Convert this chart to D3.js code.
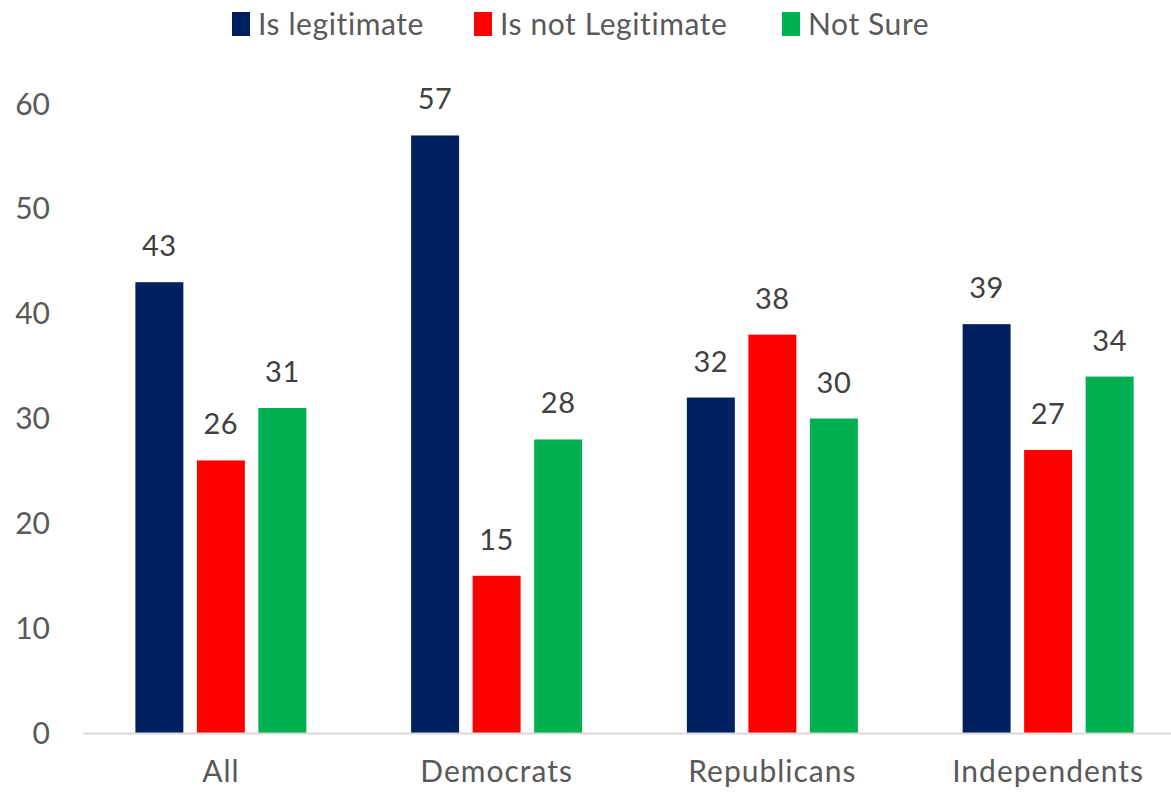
<!DOCTYPE html>
<html>
<head>
<meta charset="utf-8">
<script src="https://cdn.jsdelivr.net/npm/d3@7"></script>
<style>
  body { margin: 0; background: #fff; }
  text { font-family: Lato, "Open Sans", sans-serif; }
</style>
</head>
<body>
<div id="chart"></div>
<script>
// données
const categories = ["All", "Democrats", "Republicans", "Independents"];
const seriesNames = ["Is legitimate", "Is not Legitimate", "Not Sure"];
const isLegitimate = [43, 57, 32, 39];
const isNotLegitimate = [26, 15, 38, 27];
const notSure = [31, 28, 30, 34];
const yTicks = [0, 10, 20, 30, 40, 50, 60];
const colors = ["#002060", "#ff0000", "#00b050"];

const series = [isLegitimate, isNotLegitimate, notSure];

const width = 1171, height = 794;
const margin = { top: 104, right: -15, bottom: 61, left: 83 };

const svg = d3.select("#chart")
    .append("svg")
    .attr("width", width)
    .attr("height", height);

const x0 = d3.scaleBand()
    .domain(categories)
    .range([margin.left, width - margin.right]);

const x1 = d3.scaleBand()
    .domain(seriesNames)
    .range([0, 171])
    .paddingInner(0.22);

const y = d3.scaleLinear()
    .domain([0, 60])
    .range([height - margin.bottom, margin.top]);

// axe Y (texte seulement)
svg.append("g")
    .selectAll("text")
    .data(yTicks)
    .join("text")
    .attr("x", 50)
    .attr("y", d => y(d))
    .attr("dy", "0.35em")
    .attr("text-anchor", "end")
    .attr("fill", "#595959")
    .style("font-size", "30px")
    .text(d => d);

// barres
const groups = svg.append("g")
    .selectAll("g")
    .data(categories)
    .join("g")
    .attr("transform", c => "translate(" + (x0(c) + x0.bandwidth() / 2 - 85.5) + ",0)");

groups.selectAll("rect")
    .data((c, i) => seriesNames.map((s, j) => ({ s: s, j: j, v: series[j][i] })))
    .join("rect")
    .attr("x", d => x1(d.s))
    .attr("y", d => y(d.v))
    .attr("width", x1.bandwidth())
    .attr("height", d => y(0) - y(d.v))
    .attr("fill", d => colors[d.j]);

groups.selectAll("text")
    .data((c, i) => seriesNames.map((s, j) => ({ s: s, j: j, v: series[j][i] })))
    .join("text")
    .attr("x", d => x1(d.s) + x1.bandwidth() / 2)
    .attr("y", d => y(d.v) - 26)
    .attr("text-anchor", "middle")
    .attr("fill", "#404040")
    .style("font-size", "29px")
    .style("letter-spacing", "0.5px")
    .text(d => d.v);

// axe X
const xAxis = svg.append("g")
    .attr("transform", "translate(0," + y(0) + ")")
    .call(d3.axisBottom(x0).tickSize(0).tickPadding(28));
xAxis.select(".domain").attr("stroke", "#d9d9d9").attr("stroke-width", 2);
xAxis.selectAll("text")
    .attr("fill", "#595959")
    .style("font-size", "30px")
    .style("letter-spacing", "1px")
    .style("font-family", "Lato, 'Open Sans', sans-serif");

// légende
const legendX = [232, 474, 782];
const legend = svg.append("g")
    .selectAll("g")
    .data(seriesNames)
    .join("g")
    .attr("transform", (d, i) => "translate(" + legendX[i] + ",12)");
legend.append("rect")
    .attr("width", 18)
    .attr("height", 24)
    .attr("fill", (d, i) => colors[i]);
legend.append("text")
    .attr("x", 26)
    .attr("y", 12)
    .attr("dy", "0.35em")
    .attr("fill", "#595959")
    .style("font-size", "30px")
    .style("letter-spacing", "0.6px")
    .text(d => d);
</script>
</body>
</html>
